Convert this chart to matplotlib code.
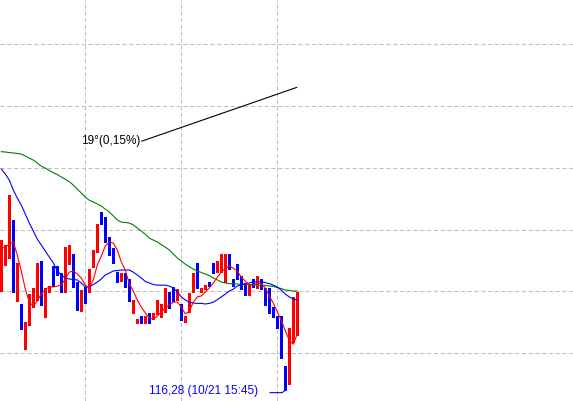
import matplotlib
matplotlib.use('Agg')
import matplotlib.pyplot as plt
import numpy as np

# 15 min candles, last visible one is 10/21 16:00
opens = [116.659, 116.695, 116.708, 116.831, 116.569, 116.559, 116.417, 116.497, 116.549, 116.572,
         116.698, 116.517, 116.598, 116.682, 116.672, 116.659, 116.598, 116.695, 116.721, 116.630,
         116.536, 116.614, 116.598, 116.679, 116.727, 116.850, 116.840, 116.740, 116.740, 116.650,
         116.633, 116.659, 116.640, 116.530, 116.497, 116.520, 116.507, 116.530, 116.510, 116.530,
         116.530, 116.533, 116.572, 116.591, 116.588, 116.559, 116.507, 116.536, 116.598, 116.692,
         116.598, 116.607, 116.630, 116.682, 116.679, 116.682, 116.679, 116.721, 116.640, 116.688,
         116.650, 116.627, 116.588, 116.637, 116.611, 116.627, 116.611, 116.611, 116.539, 116.501,
         116.520, 116.349, 116.310, 116.436, 116.481]
closes = [116.753, 116.740, 116.892, 116.598, 116.582, 116.478, 116.501, 116.591, 116.601, 116.692,
          116.556, 116.611, 116.617, 116.617, 116.659, 116.598, 116.743, 116.711, 116.614, 116.569,
          116.598, 116.569, 116.672, 116.724, 116.811, 116.818, 116.760, 116.717, 116.692, 116.646,
          116.659, 116.614, 116.569, 116.539, 116.510, 116.497, 116.510, 116.497, 116.530, 116.549,
          116.543, 116.582, 116.546, 116.569, 116.601, 116.507, 116.520, 116.582, 116.659, 116.611,
          116.611, 116.620, 116.617, 116.659, 116.688, 116.705, 116.721, 116.672, 116.617, 116.640,
          116.607, 116.588, 116.624, 116.624, 116.640, 116.607, 116.556, 116.530, 116.527, 116.484,
          116.384, 116.303, 116.442, 116.520, 116.598]
highs = [116.766, 116.750, 116.912, 116.831, 116.692, 116.559, 116.501, 116.591, 116.611, 116.692,
         116.698, 116.611, 116.617, 116.682, 116.682, 116.659, 116.743, 116.750, 116.721, 116.630,
         116.604, 116.614, 116.672, 116.734, 116.818, 116.857, 116.840, 116.776, 116.740, 116.662,
         116.659, 116.659, 116.640, 116.572, 116.510, 116.520, 116.520, 116.530, 116.530, 116.572,
         116.559, 116.611, 116.598, 116.614, 116.607, 116.559, 116.520, 116.595, 116.659, 116.692,
         116.611, 116.620, 116.630, 116.692, 116.698, 116.721, 116.721, 116.721, 116.640, 116.688,
         116.650, 116.627, 116.624, 116.640, 116.650, 116.640, 116.611, 116.611, 116.549, 116.520,
         116.520, 116.358, 116.481, 116.582, 116.598]
lows = [116.601, 116.685, 116.708, 116.598, 116.569, 116.478, 116.413, 116.491, 116.549, 116.572,
        116.556, 116.517, 116.598, 116.617, 116.653, 116.598, 116.598, 116.688, 116.614, 116.539,
        116.536, 116.562, 116.598, 116.679, 116.727, 116.818, 116.760, 116.717, 116.692, 116.630,
        116.633, 116.614, 116.569, 116.530, 116.497, 116.497, 116.497, 116.497, 116.510, 116.527,
        116.517, 116.533, 116.546, 116.569, 116.572, 116.507, 116.501, 116.533, 116.598, 116.611,
        116.598, 116.607, 116.617, 116.659, 116.662, 116.662, 116.630, 116.672, 116.617, 116.640,
        116.607, 116.588, 116.588, 116.614, 116.611, 116.607, 116.556, 116.530, 116.517, 116.481,
        116.384, 116.280, 116.300, 116.436, 116.459]

ma_short = [116.740, 116.743, 116.753, 116.760, 116.717, 116.666, 116.607, 116.565, 116.552, 116.569,
            116.591, 116.607, 116.614, 116.614, 116.617, 116.620, 116.640, 116.662, 116.666, 116.656,
            116.643, 116.620, 116.611, 116.637, 116.685, 116.714, 116.747, 116.760, 116.756, 116.734,
            116.695, 116.669, 116.624, 116.601, 116.572, 116.549, 116.530, 116.514, 116.510, 116.520,
            116.533, 116.546, 116.556, 116.565, 116.565, 116.549, 116.527, 116.536, 116.565, 116.582,
            116.585, 116.598, 116.611, 116.627, 116.646, 116.662, 116.675, 116.682, 116.675, 116.666,
            116.646, 116.633, 116.620, 116.620, 116.627, 116.624, 116.611, 116.585, 116.562, 116.533,
            116.507, 116.472, 116.442, 116.429, 116.462]
ma_mid = [116.996, 116.980, 116.960, 116.928, 116.902, 116.879, 116.850, 116.821, 116.795, 116.769,
          116.750, 116.730, 116.711, 116.692, 116.666, 116.653, 116.643, 116.640, 116.638, 116.637,
          116.627, 116.614, 116.614, 116.622, 116.630, 116.640, 116.653, 116.659, 116.666, 116.667,
          116.669, 116.669, 116.669, 116.662, 116.653, 116.643, 116.632, 116.627, 116.622, 116.620,
          116.620, 116.620, 116.617, 116.611, 116.598, 116.582, 116.572, 116.565, 116.562, 116.561,
          116.561, 116.559, 116.561, 116.565, 116.573, 116.582, 116.591, 116.601, 116.607, 116.617,
          116.622, 116.625, 116.627, 116.630, 116.631, 116.631, 116.628, 116.625, 116.620, 116.614,
          116.604, 116.591, 116.582, 116.575, 116.572]
ma_long = [117.052, 117.051, 117.049, 117.048, 117.046, 117.044, 117.038, 117.031, 117.025, 117.015,
           117.005, 116.999, 116.991, 116.984, 116.978, 116.970, 116.963, 116.955, 116.944, 116.931,
           116.918, 116.905, 116.895, 116.889, 116.883, 116.876, 116.866, 116.857, 116.844, 116.831,
           116.824, 116.823, 116.821, 116.815, 116.805, 116.795, 116.785, 116.772, 116.766, 116.760,
           116.751, 116.743, 116.734, 116.721, 116.708, 116.698, 116.688, 116.680, 116.672, 116.666,
           116.661, 116.656, 116.651, 116.643, 116.637, 116.630, 116.627, 116.625, 116.624, 116.624,
           116.622, 116.622, 116.622, 116.622, 116.620, 116.620, 116.619, 116.617, 116.616, 116.612,
           116.609, 116.604, 116.603, 116.601, 116.601]

price_lines = [116.4, 116.6, 116.8, 117.0, 117.2, 117.4]
time_lines = [21, 45, 69]

# trend line (bar index, price) and labels
trend_x = [35.1, 73.85]
trend_y = [117.086, 117.260]
trend_label = '19°(0,15%)'
low_idx = 71
low_price = 116.28
low_label = '116,28 (10/21 15:45)'

plt.rcParams['font.family'] = ['Liberation Sans', 'DejaVu Sans']

fig = plt.figure(figsize=(5.73, 4.01), dpi=100)
ax = fig.add_axes([0, 0, 1, 1])
ax.set_xlim(-0.325, 142.925)
ax.set_ylim(116.245, 117.543)

ax.set_yticks(price_lines)
ax.set_xticks(time_lines)
ax.grid(True, color='#c0c0c0', linestyle=(0, (4, 2.5)), linewidth=0.75)
ax.tick_params(length=0, labelleft=False, labelbottom=False)
for s in ax.spines.values():
    s.set_visible(False)

o = np.array(opens)
c = np.array(closes)
x = np.arange(len(o))
cols = np.where(c >= o, '#ff0000', '#0000ff')
ax.vlines(x, lows, highs, colors=cols, linewidth=0.75, antialiased=False, zorder=2)
body_h = np.maximum(np.abs(c - o), 0.0033)
ax.bar(x, body_h, bottom=np.minimum(o, c), width=0.75, color=cols,
       linewidth=0, antialiased=False, zorder=3)

ax.plot(x, ma_long, color='#008000', linewidth=0.8, zorder=4)
ax.plot(x, ma_mid, color='#0000ff', linewidth=0.8, zorder=4)
ax.plot(x, ma_short, color='#ff0000', linewidth=0.8, zorder=4)

ax.plot(trend_x, trend_y, color='black', linewidth=0.8, zorder=5)
ax.text(trend_x[0] - 0.2, trend_y[0], trend_label, ha='right', va='center',
        fontsize=8.5, color='black')

ax.plot([low_idx - 3.8, low_idx - 0.8, low_idx], [low_price - 0.008, low_price - 0.008, low_price],
        color='#0000ff', linewidth=0.8, zorder=5)
ax.text(low_idx - 6.8, low_price - 0.004, low_label, ha='right', va='center',
        fontsize=8.5, color='#0000ff')

fig.savefig('out.png', dpi=100, facecolor='white')
